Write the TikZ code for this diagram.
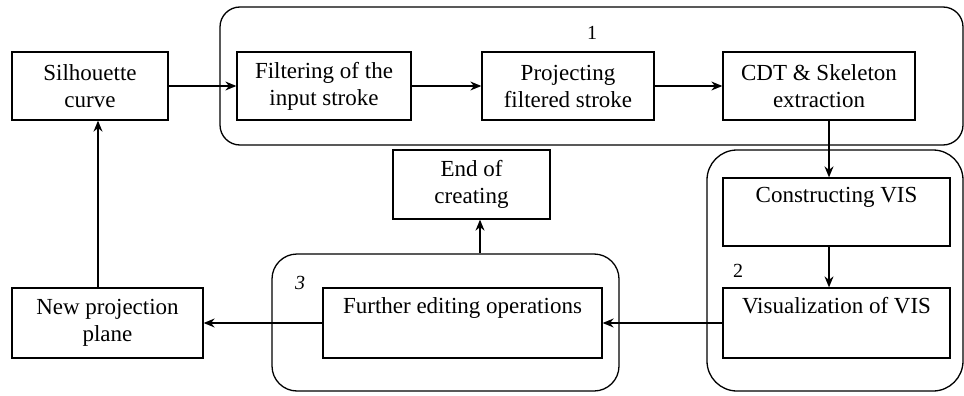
\documentclass[tikz,border=0pt]{standalone}
\usepackage{fontspec}
\setmainfont{Liberation Serif}
\usetikzlibrary{arrows.meta}

\tikzset{
  stepbox/.style={draw, line width=1.3pt, inner sep=0pt, align=center,
    font=\fontsize{23}{27}\selectfont},
  group/.style={draw, line width=1.3pt, inner sep=0pt},
  tag/.style={font=\fontsize{20}{20}\selectfont},
}

\begin{document}
\begin{tikzpicture}[x=1pt, y=-1pt, line width=1.3pt,
    >={Stealth[length=11pt, width=9pt]}]
    \useasboundingbox (0,0) rectangle (964,396);

    % Rounded groups
    \node[group, rounded corners=20pt, minimum width=743pt, minimum height=138pt] (g1) at (591.5,76) {};
    \node[group, rounded corners=30pt, minimum width=256pt, minimum height=241pt] (g2) at (835,270.5) {};
    \node[group, rounded corners=25pt, minimum width=347pt, minimum height=137pt] (g3) at (445.5,322.5) {};
    \node[tag] (t1) at (592,33) {1};
    \node[tag] (t2) at (738,271) {2};
    \node[tag] (t3) at (300,283) {\itshape 3};

    % Top row
    \node[stepbox, minimum width=156pt, minimum height=68pt] (sil) at (90,86) {Silhouette\\curve};
    \node[stepbox, minimum width=174pt, minimum height=68pt] (filt) at (324,86) {Filtering of the\\input stroke};
    \node[stepbox, minimum width=172pt, minimum height=68pt] (proj) at (568,86) {Projecting\\filtered stroke};
    \node[stepbox, minimum width=192pt, minimum height=68pt] (cdt) at (819,86) {CDT \& Skeleton\\extraction};

    % Right column
    \node[stepbox, minimum width=227pt, minimum height=68pt] (cons) at (836.5,212) {Constructing VIS\\\strut};
    \node[stepbox, minimum width=227pt, minimum height=70pt] (vis) at (836.5,323) {Visualization of VIS\\\strut};

    % Bottom row
    \node[stepbox, minimum width=279pt, minimum height=70pt] (furth) at (462.5,323) {Further editing operations\\\strut};
    \node[stepbox, minimum width=191pt, minimum height=70pt] (newp) at (107.5,323) {New projection\\plane};
    \node[stepbox, minimum width=157pt, minimum height=69pt] (endc) at (471.5,184.5) {End of\\creating};

    % Connectors
    \draw[->] (sil) -- (filt);
    \draw[->] (filt) -- (proj);
    \draw[->] (proj) -- (cdt);
    \draw[->] ([xshift=10pt]cdt.south) -- ([xshift=10pt]cdt.south |- cons.north);
    \draw[->] ([xshift=-7.5pt]cons.south) -- ([xshift=-7.5pt]cons.south |- vis.north);
    \draw[->] (vis.west) -- (furth.east);
    \draw[->] (furth.west) -- (newp.east);
    \draw[->] ([xshift=8.5pt]endc.south |- g3.north) -- ([xshift=8.5pt]endc.south);
    \draw[->] ([xshift=-9.5pt]newp.north) -- ([xshift=-9.5pt]newp.north |- sil.south);
\end{tikzpicture}
\end{document}
